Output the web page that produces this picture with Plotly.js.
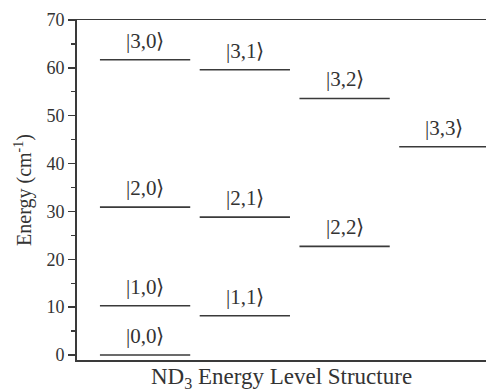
<!DOCTYPE html>
<html>
<head>
<meta charset="utf-8">
<script src="https://cdn.plot.ly/plotly-3.0.1.min.js"></script>
<style>html,body{margin:0;padding:0;background:#fff;}#chart{width:486px;height:392px;}</style>
</head>
<body>
<div id="chart"></div>
<script>
// Data
const levelLabels = ['|0,0⟩','|1,0⟩','|1,1⟩','|2,0⟩','|2,1⟩','|2,2⟩','|3,0⟩','|3,1⟩','|3,2⟩','|3,3⟩'];
const levelK      = [0, 0, 1, 0, 1, 2, 0, 1, 2, 3];
const levelEnergy = [0, 10.3, 8.2, 30.9, 28.8, 22.7, 61.7, 59.6, 53.6, 43.5];
const yTickVals   = [0, 10, 20, 30, 40, 50, 60, 70];

const SEG_W = 0.905;
const lineColor = '#3a3a3a';
const textColor = '#333333';
const serif = 'Liberation Serif';

const traces = levelLabels.map((lab, i) => ({
  type: 'scatter',
  mode: 'lines',
  x: [levelK[i], levelK[i] + SEG_W],
  y: [levelEnergy[i], levelEnergy[i]],
  line: {color: lineColor, width: 1.6},
  hoverinfo: 'skip',
  showlegend: false
}));

const annotations = levelLabels.map((lab, i) => ({
  xref: 'x', yref: 'y',
  x: levelK[i] + SEG_W / 2,
  y: levelEnergy[i],
  text: lab,
  showarrow: false,
  yanchor: 'bottom',
  yshift: 5,
  font: {family: serif, size: 21, color: textColor}
}));

const layout = {
  width: 486, height: 392,
  margin: {l: 77, r: 0, t: 20, b: 32, pad: 0},
  paper_bgcolor: '#ffffff',
  plot_bgcolor: '#ffffff',
  showlegend: false,
  font: {family: serif, color: textColor, size: 18},
  xaxis: {
    range: [-0.23, 3.87],
    showgrid: false, zeroline: false,
    showticklabels: false, ticks: '',
    showline: true, mirror: true,
    linecolor: lineColor, linewidth: 1.5,
    title: {text: 'ND<sub>3</sub> Energy Level Structure', font: {family: serif, size: 23, color: textColor}, standoff: 7}
  },
  yaxis: {
    range: [-1.05, 70],
    tickvals: yTickVals,
    ticktext: yTickVals.map(String),
    ticks: 'outside', ticklen: 7, tickwidth: 1.5, tickcolor: lineColor,
    minor: {dtick: 5, tick0: 0, ticks: 'outside', ticklen: 4, tickwidth: 1.2, tickcolor: lineColor, showgrid: false},
    showgrid: false, zeroline: false,
    showline: true, mirror: false,
    linecolor: lineColor, linewidth: 1.8,
    tickfont: {family: serif, size: 18, color: textColor},
    title: {text: 'Energy (cm<sup>-1</sup>)', font: {family: serif, size: 20, color: textColor}, standoff: 9}
  },
  annotations: annotations
};

Plotly.newPlot('chart', traces, layout, {displayModeBar: false, staticPlot: true});
</script>
</body>
</html>
